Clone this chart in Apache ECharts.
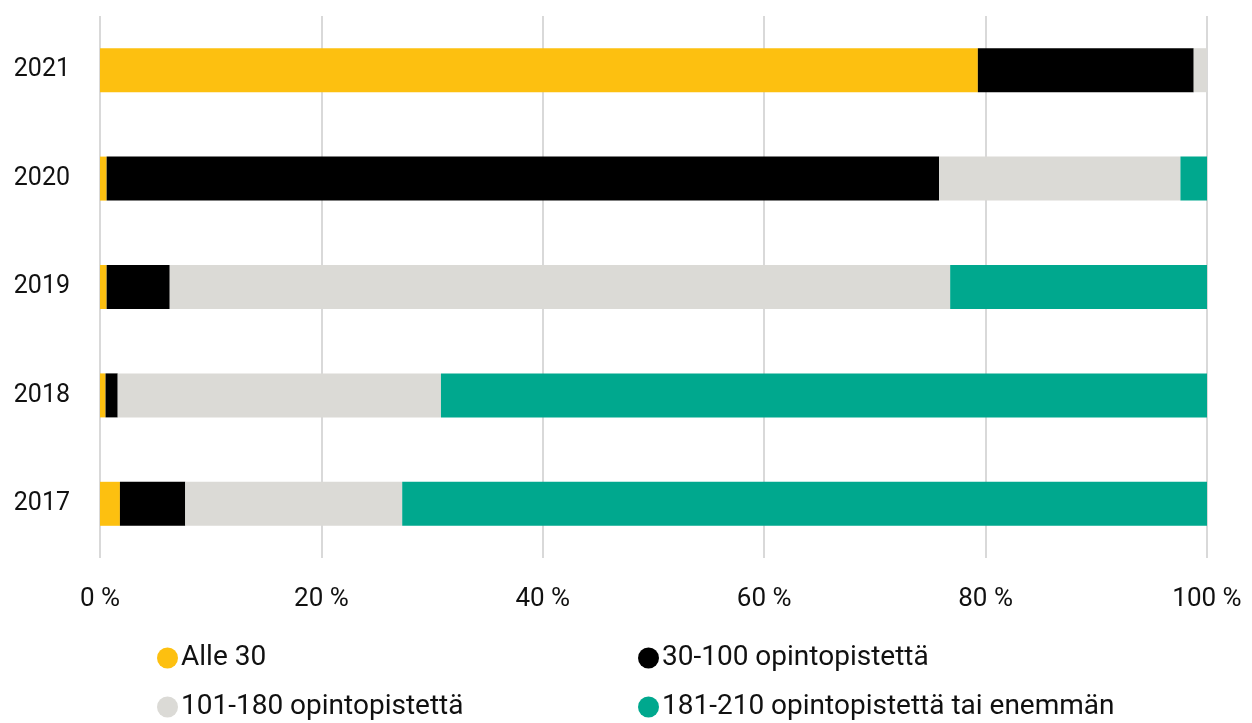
<!DOCTYPE html>
<html>
<head>
<meta charset="utf-8">
<script src="https://cdn.jsdelivr.net/npm/echarts@6/dist/echarts.min.js"></script>
<style>
  html, body { margin: 0; padding: 0; background: #fff; }
  #chart { width: 1252px; height: 723px; }
</style>
</head>
<body>
<div id="chart"></div>
<script>
const years = ["2017", "2018", "2019", "2020", "2021"];
const seriesNames = [
  "Alle 30",
  "30-100 opintopistettä",
  "101-180 opintopistettä",
  "181-210 opintopistettä tai enemmän"
];
const alle30 = [1.8, 0.5, 0.6, 0.6, 79.3];
const op30to100 = [5.9, 1.1, 5.7, 75.2, 19.5];
const op101to180 = [19.6, 29.2, 70.5, 21.8, 1.2];
const op181to210 = [72.7, 69.2, 23.2, 2.4, 0];
const xTicks = [0, 20, 40, 60, 80, 100];

const colors = ["#fdc010", "#000000", "#dbdad6", "#00a88e"];
const values = [alle30, op30to100, op101to180, op181to210];
const font = "Roboto, sans-serif";

const chart = echarts.init(document.getElementById("chart"));

const legendText = { fontFamily: font, fontSize: 28, color: "#111", padding: [0, 0, 0, -2] };

// two vertical legend columns
const legendCol = (names, left) => ({
  data: names,
  orient: "vertical",
  left: left,
  top: 644,
  height: 120,
  padding: 0,
  itemWidth: 21,
  itemHeight: 21,
  itemGap: 21,
  icon: "circle",
  textStyle: legendText
});

const option = {
  animation: false,
  grid: { left: 100, right: 45, top: 16, bottom: 165 },
  xAxis: {
    type: "value",
    min: 0,
    max: 100,
    interval: 20,
    axisLine: { show: false },
    axisTick: { show: false },
    splitLine: { lineStyle: { color: "#d9d9d9", width: 2 } },
    axisLabel: {
      margin: 28,
      fontFamily: font,
      fontSize: 26,
      color: "#111",
      formatter: (v) => (xTicks.includes(v) ? v + " %" : "")
    }
  },
  yAxis: {
    type: "category",
    data: years,
    axisLine: { show: false },
    axisTick: { show: false },
    axisLabel: {
      margin: 30,
      fontFamily: font,
      fontSize: 25,
      color: "#111"
    }
  },
  legend: [
    legendCol([seriesNames[0], seriesNames[2]], 157),
    legendCol([seriesNames[1], seriesNames[3]], 638)
  ],
  series: seriesNames.map((name, i) => ({
    name: name,
    type: "bar",
    stack: "total",
    barWidth: 44,
    data: values[i],
    itemStyle: { color: colors[i] }
  }))
};

chart.setOption(option);
</script>
</body>
</html>
